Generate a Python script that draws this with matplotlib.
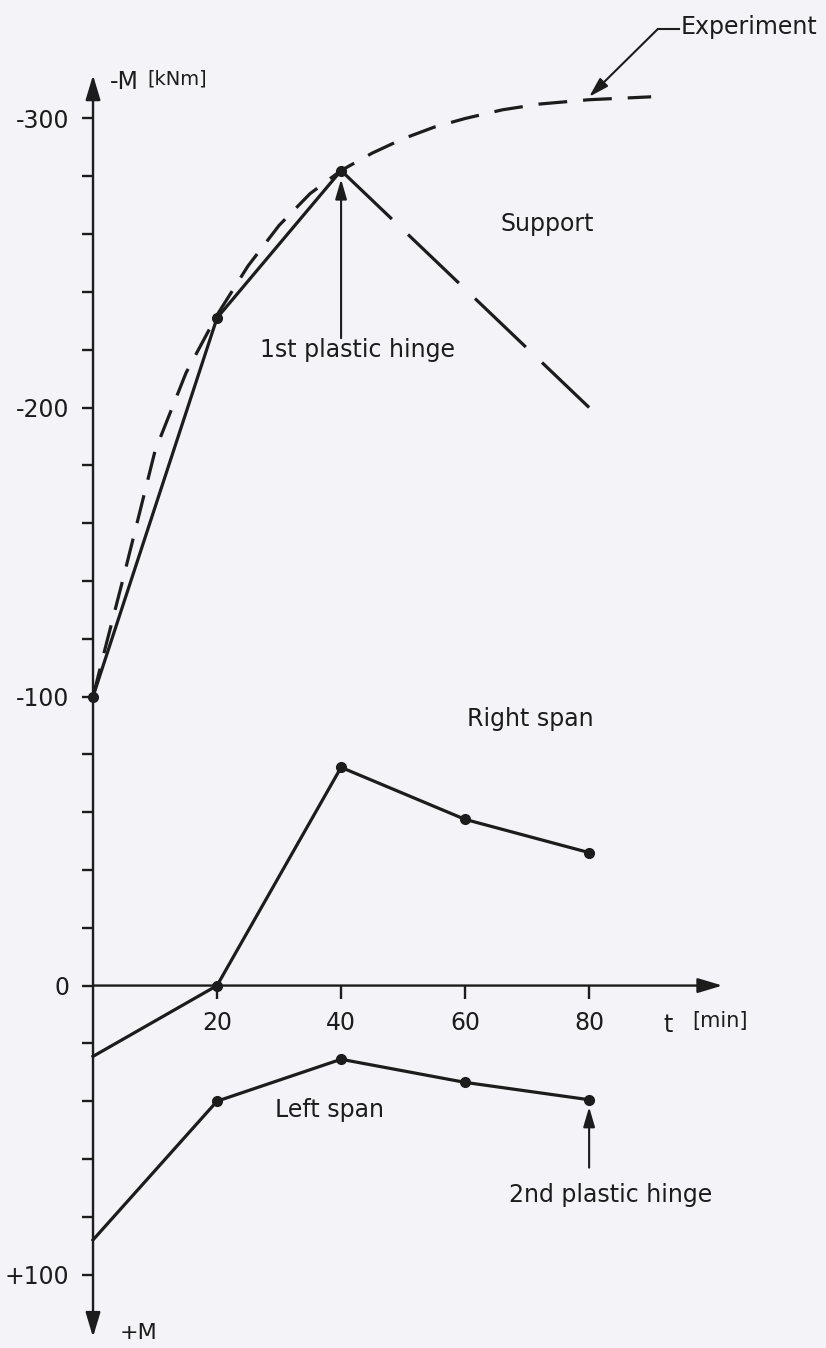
import matplotlib
matplotlib.use("Agg")
import matplotlib.pyplot as plt
from matplotlib.ticker import FixedLocator, FixedFormatter

# ---- data: moment M [kNm] versus time t [min] ----
support_t = [0, 20, 40]
support_M = [-100, -231, -282]
support_after_t = [40, 80]
support_after_M = [-282, -200]

experiment_t = [0, 2, 5, 10, 15, 20, 25, 30, 35, 40, 45, 50, 55, 60, 66, 72, 80, 90]
experiment_M = [-100, -117, -142, -185, -212, -232, -249, -263, -274, -282,
                -288, -293, -297, -300, -303, -305, -306.5, -307.5]

right_span_t = [0, 20, 40, 60, 80]
right_span_M = [24.5, 0, -75.5, -57.5, -46]

left_span_t = [0, 20, 40, 60, 80]
left_span_M = [88, 40, 25.5, 33.5, 39.5]

y_major = [-300, -200, -100, 0, 100]
y_major_labels = ["-300", "-200", "-100", "0", "+100"]
y_minor = [v for v in range(-280, 100, 20) if v % 100 != 0]
x_ticks = [20, 40, 60, 80]
x_tick_labels = ["20", "40", "60", "80"]

INK = "#1c1c1c"
BG = "#f3f3f8"
LW = 2.3
MS = 7

fig = plt.figure(figsize=(8.26, 13.48), dpi=100, facecolor=BG)
ax = fig.add_axes([0, 0, 1, 1], facecolor=BG)
ax.set_xlim(-15.0, 118.2)
ax.set_ylim(125.4, -341.0)   # negative moments point upwards

for s in ax.spines.values():
    s.set_visible(False)
ax.spines["left"].set_position(("data", 0))
ax.spines["bottom"].set_position(("data", 0))

# axes with arrow heads
ax.annotate("", xy=(0, -315), xytext=(0, 121.6),
            arrowprops=dict(arrowstyle="<|-|>,head_length=15,head_width=4.5",
                            mutation_scale=1, color=INK, lw=1.7,
                            shrinkA=0, shrinkB=0))
ax.annotate("", xy=(101.5, 0), xytext=(0, 0),
            arrowprops=dict(arrowstyle="-|>,head_length=15,head_width=4.5",
                            mutation_scale=1, color=INK, lw=1.7,
                            shrinkA=0, shrinkB=0))

ax.yaxis.set_major_locator(FixedLocator(y_major))
ax.yaxis.set_major_formatter(FixedFormatter(y_major_labels))
ax.yaxis.set_minor_locator(FixedLocator(y_minor))
ax.xaxis.set_major_locator(FixedLocator(x_ticks))
ax.xaxis.set_major_formatter(FixedFormatter(x_tick_labels))
ax.tick_params(axis="y", which="both", direction="out", length=8, width=1.7,
               color=INK, labelsize=17, labelcolor=INK, pad=9)
ax.tick_params(axis="x", which="major", direction="out", length=9, width=1.7,
               color=INK, labelsize=17, labelcolor=INK, pad=9)

# support moment
ax.plot(support_t, support_M, color=INK, lw=LW, marker="o", ms=MS,
        solid_capstyle="round")
l, = ax.plot(support_after_t, support_after_M, color=INK, lw=LW)
l.set_dashes([22, 7])

# experiment
e, = ax.plot(experiment_t, experiment_M, color=INK, lw=LW)
e.set_dashes([9, 5])

# spans
ax.plot(right_span_t, right_span_M, color=INK, lw=LW)
ax.plot(right_span_t[1:], right_span_M[1:], ls="none", marker="o", ms=MS, color=INK)
ax.plot(left_span_t, left_span_M, color=INK, lw=LW)
ax.plot(left_span_t[1:], left_span_M[1:], ls="none", marker="o", ms=MS, color=INK)

txt = dict(color=INK, fontsize=17)
ax.text(73.2, -263.5, "Support", ha="center", va="center", **txt)
ax.text(70.5, -92.2, "Right span", ha="center", va="center", **txt)
ax.text(38.2, 43.1, "Left span", ha="center", va="center", **txt)
ax.text(42.6, -219.9, "1st plastic hinge", ha="center", va="center", **txt)
ax.text(83.4, 72.5, "2nd plastic hinge", ha="center", va="center", **txt)

# hinge arrows
ax.annotate("", xy=(support_t[2], support_M[2] + 3), xytext=(support_t[2], -224),
            arrowprops=dict(arrowstyle="-|>,head_length=12,head_width=3.5",
                            mutation_scale=1, color=INK, lw=1.5,
                            shrinkA=0, shrinkB=0))
ax.annotate("", xy=(left_span_t[4], left_span_M[4] + 2.5), xytext=(left_span_t[4], 63),
            arrowprops=dict(arrowstyle="-|>,head_length=12,head_width=3.5",
                            mutation_scale=1, color=INK, lw=1.5,
                            shrinkA=0, shrinkB=0))

# experiment label with leader
ax.text(94.7, -331.7, "Experiment", ha="left", va="center", **txt)
ax.plot([91.1, 94.5], [-331.0, -331.0], color=INK, lw=1.5)
ax.annotate("", xy=(80, experiment_M[16] - 1), xytext=(91.1, -331.0),
            arrowprops=dict(arrowstyle="-|>,head_length=12,head_width=3.5",
                            mutation_scale=1, color=INK, lw=1.5,
                            shrinkA=0, shrinkB=0))

# axis titles
ax.text(2.7, -312.5, "-M", ha="left", va="center", color=INK, fontsize=17)
ax.text(8.8, -313.5, "[kNm]", ha="left", va="center", color=INK, fontsize=14)
ax.text(7.3, 120.2, "+M", ha="center", va="center", color=INK, fontsize=16)
ax.text(92.7, 13.7, "t", ha="center", va="center", color=INK, fontsize=17)
ax.text(101.1, 12.4, "[min]", ha="center", va="center", color=INK, fontsize=15)

fig.savefig("out.png", dpi=100, facecolor=BG)
